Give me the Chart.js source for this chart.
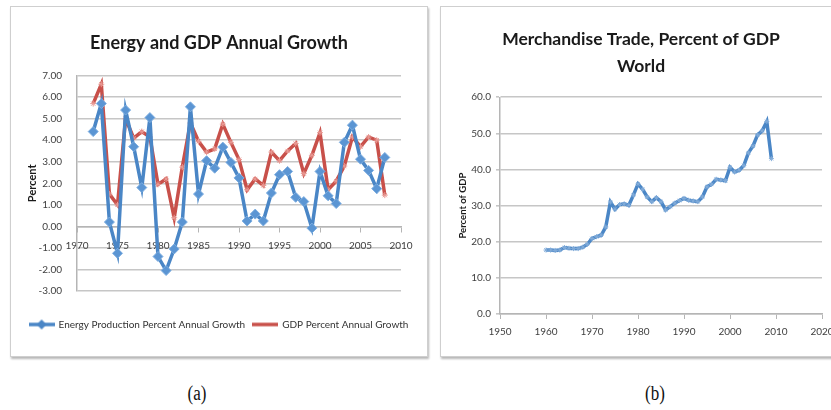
<!DOCTYPE html>
<html lang="en">
<head>
    <meta charset="UTF-8">
    <title>Energy and Trade</title>
    <script src="https://cdn.jsdelivr.net/npm/chart.js"></script>
    <style>
        body { margin: 0; width: 831px; height: 410px; overflow: hidden; background: #fff; position: relative; }
        .box { position: absolute; border: 1px solid #cfcfcf; box-shadow: 1px 2px 2px #b8b8b8; background: #fff; }
        #boxA { left: 10px; top: 6px; width: 416px; height: 349px; }
        #boxB { left: 440px; top: 6px; width: 420px; height: 349px; }
        .cap { position: absolute; top: 382px; font-family: "Liberation Serif", serif; font-size: 20px; color: #111; transform: translateX(-50%) scaleX(0.85); }
    </style>
</head>
<body>
    <div class="box" id="boxA"><canvas id="growthChart" width="416" height="349"></canvas></div>
    <div class="box" id="boxB"><canvas id="tradeChart" width="400" height="349"></canvas></div>
    <div class="cap" style="left:197px">(a)</div>
    <div class="cap" style="left:655px">(b)</div>
    <script>
        // chart (a)
        const growthYears = [1972, 1973, 1974, 1975, 1976, 1977, 1978, 1979, 1980, 1981, 1982, 1983, 1984, 1985, 1986, 1987, 1988, 1989, 1990,
            1991, 1992, 1993, 1994, 1995, 1996, 1997, 1998, 1999, 2000, 2001, 2002, 2003, 2004, 2005, 2006, 2007, 2008];
        const energyGrowth = [4.4, 5.7, 0.2, -1.25, 5.4, 3.7, 1.8, 5.05, -1.4, -2.05, -1.05, 0.2, 5.55, 1.5, 3.05, 2.7, 3.68, 2.97, 2.25,
            0.25, 0.57, 0.25, 1.55, 2.4, 2.55, 1.35, 1.15, -0.08, 2.55, 1.42, 1.06, 3.9, 4.7, 3.12, 2.6, 1.75, 3.2];
        const gdpGrowth = [5.7, 6.6, 1.5, 1.0, 5.0, 4.1, 4.4, 4.15, 1.95, 2.2, 0.4, 2.75, 4.8, 3.95, 3.45, 3.6, 4.75, 3.9, 3.1,
            1.7, 2.2, 1.9, 3.45, 3.05, 3.5, 3.85, 2.45, 3.3, 4.35, 1.7, 2.1, 2.8, 4.15, 3.7, 4.15, 4.0, 1.45];

        // chart (b)
        const tradeYears = [1960, 1961, 1962, 1963, 1964, 1965, 1966, 1967, 1968, 1969, 1970, 1971, 1972, 1973, 1974, 1975, 1976, 1977,
            1978, 1979, 1980, 1981, 1982, 1983, 1984, 1985, 1986, 1987, 1988, 1989, 1990, 1991, 1992, 1993, 1994, 1995, 1996,
            1997, 1998, 1999, 2000, 2001, 2002, 2003, 2004, 2005, 2006, 2007, 2008, 2009];
        const tradeShare = [17.7, 17.7, 17.6, 17.7, 18.4, 18.2, 18.1, 18.1, 18.5, 19.3, 20.9, 21.4, 21.8, 24.1, 31.0, 29.0, 30.3, 30.5,
            30.1, 32.9, 36.0, 34.5, 32.4, 31.1, 32.2, 31.1, 28.8, 29.7, 30.7, 31.4, 32.0, 31.5, 31.3, 31.1, 32.4, 35.2, 35.9,
            37.3, 37.1, 36.9, 40.6, 39.3, 39.8, 41.1, 44.6, 46.5, 49.6, 50.7, 53.3, 43.0];

        const BLUE = '#4a86c6';
        const RED = '#c8504a';
        const GRID = '#c6c6c6';
        const TICK = '#404040';
        const FONT = 'Lato';

        // little line+marker pictures for the legend, like excel draws them
        function legendIcon(color, marker) {
            const c = document.createElement('canvas');
            c.width = 26; c.height = 12;
            const g = c.getContext('2d');
            g.strokeStyle = color; g.lineWidth = 3.5;
            g.beginPath(); g.moveTo(0, 6); g.lineTo(26, 6); g.stroke();
            if (marker === 'diamond') {
                g.fillStyle = color;
                g.beginPath(); g.moveTo(13, 1); g.lineTo(18, 6); g.lineTo(13, 11); g.lineTo(8, 6); g.closePath(); g.fill();
            }
            return c;
        }
        const legendIcons = [legendIcon(BLUE, 'diamond'), legendIcon(RED, 'star')];

        function xy(xs, ys) {
            return xs.map((x, i) => ({ x: x, y: ys[i] }));
        }

        new Chart(document.getElementById('growthChart'), {
            type: 'line',
            data: {
                datasets: [{
                    label: 'Energy Production Percent Annual Growth',
                    data: xy(growthYears, energyGrowth),
                    borderColor: BLUE,
                    backgroundColor: BLUE,
                    borderWidth: 3.5,
                    pointStyle: 'rectRot',
                    pointRadius: 5,
                    pointBackgroundColor: '#5b95d3',
                    pointBorderColor: '#7eaee0',
                    pointBorderWidth: 1,
                    tension: 0
                }, {
                    label: 'GDP Percent Annual Growth',
                    data: xy(growthYears, gdpGrowth),
                    borderColor: RED,
                    backgroundColor: RED,
                    borderWidth: 3.5,
                    pointStyle: 'star',
                    pointRadius: 3,
                    pointBorderColor: '#e99a94',
                    pointBorderWidth: 1,
                    tension: 0
                }]
            },
            options: {
                responsive: false,
                animation: false,
                layout: { padding: { left: 0, right: 0, top: 0, bottom: 16.5 } },
                plugins: {
                    title: {
                        display: true,
                        text: 'Energy and GDP Annual Growth',
                        color: '#1a1a1a',
                        font: { family: FONT, size: 18, weight: 'bold' },
                        padding: { top: 25, bottom: 22 }
                    },
                    legend: {
                        position: 'bottom',
                        title: { display: true, text: '', font: { size: 10 }, padding: { top: 0, bottom: 8.5 } },
                        labels: {
                            usePointStyle: true,
                            pointStyleWidth: 24,
                            boxHeight: 10,
                            padding: 8,
                            color: '#333',
                            font: { family: FONT, size: 10 },
                            generateLabels(chart) {
                                const items = Chart.defaults.plugins.legend.labels.generateLabels(chart);
                                items.forEach((it, i) => { it.pointStyle = legendIcons[i]; });
                                return items;
                            }
                        }
                    },
                    tooltip: { enabled: false }
                },
                scales: {
                    x: {
                        type: 'linear',
                        position: { y: 0 },
                        min: 1970,
                        max: 2010,
                        ticks: { stepSize: 5, padding: 8, color: TICK, font: { family: FONT, size: 10 }, callback: v => String(v) },
                        grid: { drawOnChartArea: false, tickLength: 5, color: '#b5b5b5' },
                        border: { color: '#b5b5b5', width: 1.5 }
                    },
                    y: {
                        min: -3,
                        max: 7,
                        ticks: { stepSize: 1, padding: 15, color: TICK, font: { family: FONT, size: 10 }, callback: v => v.toFixed(2) },
                        grid: { color: GRID, lineWidth: 1.6, drawTicks: false },
                        border: { color: '#b5b5b5', width: 1.5 },
                        title: { display: true, text: 'Percent', color: '#1a1a1a', font: { family: FONT, size: 11, weight: 'bold' }, padding: { top: 15 } },
                        afterFit(s) { s.width = 66; }
                    },
                    spare: {
                        position: 'right',
                        ticks: { display: false },
                        grid: { display: false },
                        border: { display: false },
                        afterFit(s) { s.width = 26; }
                    }
                }
            }
        });

        new Chart(document.getElementById('tradeChart'), {
            type: 'line',
            data: {
                datasets: [{
                    label: 'Merchandise trade (% of GDP)',
                    data: xy(tradeYears, tradeShare),
                    borderColor: BLUE,
                    backgroundColor: BLUE,
                    borderWidth: 3.5,
                    pointStyle: 'star',
                    pointRadius: 2.5,
                    pointBorderColor: '#82acd9',
                    pointBorderWidth: 1,
                    tension: 0
                }]
            },
            options: {
                responsive: false,
                animation: false,
                layout: { padding: { left: 0, right: 0, top: 0, bottom: 11 } },
                plugins: {
                    title: {
                        display: true,
                        text: ['Merchandise Trade, Percent of GDP', 'World'],
                        color: '#1a1a1a',
                        font: { family: FONT, size: 17.5, weight: 'bold', lineHeight: 1.55 },
                        padding: { top: 19, bottom: 17 }
                    },
                    legend: { display: false },
                    tooltip: { enabled: false }
                },
                scales: {
                    x: {
                        type: 'linear',
                        min: 1950,
                        max: 2020,
                        ticks: { stepSize: 10, padding: 7, color: TICK, font: { family: FONT, size: 10 }, callback: v => String(v) },
                        grid: { drawOnChartArea: false, tickLength: 5, color: '#b5b5b5' },
                        border: { color: '#b5b5b5', width: 1.5 }
                    },
                    y: {
                        min: 0,
                        max: 60,
                        ticks: { stepSize: 10, padding: 5, color: TICK, font: { family: FONT, size: 10 }, callback: v => v.toFixed(1) },
                        grid: { color: GRID, lineWidth: 1.6, tickLength: 4 },
                        border: { color: '#b5b5b5', width: 1.5 },
                        title: { display: true, text: 'Percent of GDP', color: '#1a1a1a', font: { family: FONT, size: 9.5, weight: 'bold' }, padding: { top: 16 } },
                        afterFit(s) { s.width = 59; }
                    },
                    spare: {
                        position: 'right',
                        ticks: { display: false },
                        grid: { display: false },
                        border: { display: false },
                        afterFit(s) { s.width = 19; }
                    }
                }
            }
        });
    </script>
</body>
</html>
